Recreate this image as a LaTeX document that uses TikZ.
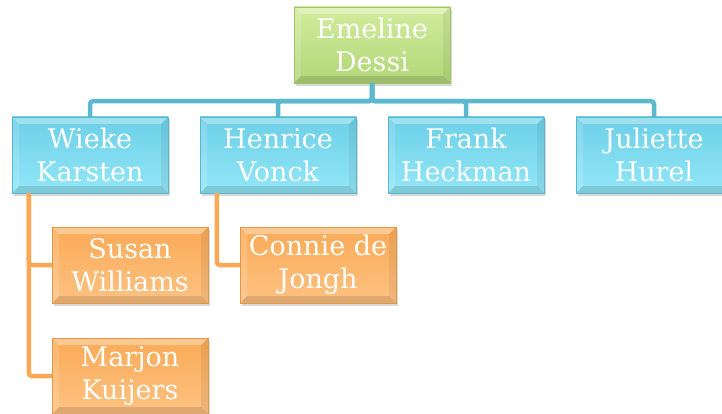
\documentclass[tikz,border=0pt]{standalone}
\usepackage{fontspec}
\setmainfont{DejaVu Serif}
\usetikzlibrary{positioning,shadows}

\definecolor{bossTop}{HTML}{D2EC9E}
\definecolor{bossBottom}{HTML}{B2D777}
\definecolor{bossEdge}{HTML}{A3C466}
\definecolor{staffTop}{HTML}{6CCFE7}
\definecolor{staffBottom}{HTML}{93E7F8}
\definecolor{staffEdge}{HTML}{5AB6CC}
\definecolor{helperTop}{HTML}{FAAA56}
\definecolor{helperBottom}{HTML}{FDC282}
\definecolor{helperEdge}{HTML}{E39848}
\definecolor{staffLine}{HTML}{5BB9CF}
\definecolor{helperLine}{HTML}{F9A855}

\tikzstyle{box} = [rectangle, minimum width=156pt, minimum height=76pt, inner sep=0pt, align=center, text=white, font=\fontsize{27}{33}\selectfont, drop shadow={shadow xshift=2pt, shadow yshift=-3pt, opacity=0.3},
  path picture={
    \fill[white, opacity=0.35] (path picture bounding box.north west) -- (path picture bounding box.north east) -- ([shift={(-7pt,-7pt)}]path picture bounding box.north east) -- ([shift={(7pt,-7pt)}]path picture bounding box.north west) -- cycle;
    \fill[white, opacity=0.15] (path picture bounding box.north west) -- ([shift={(7pt,-7pt)}]path picture bounding box.north west) -- ([shift={(7pt,7pt)}]path picture bounding box.south west) -- (path picture bounding box.south west) -- cycle;
    \fill[black, opacity=0.12] (path picture bounding box.south west) -- (path picture bounding box.south east) -- ([shift={(-7pt,7pt)}]path picture bounding box.south east) -- ([shift={(7pt,7pt)}]path picture bounding box.south west) -- cycle;
    \fill[black, opacity=0.06] (path picture bounding box.north east) -- ([shift={(-7pt,-7pt)}]path picture bounding box.north east) -- ([shift={(-7pt,7pt)}]path picture bounding box.south east) -- (path picture bounding box.south east) -- cycle;
  }]
\tikzstyle{boss} = [box, top color=bossTop, bottom color=bossBottom, draw=bossEdge]
\tikzstyle{staff} = [box, top color=staffTop, bottom color=staffBottom, draw=staffEdge]
\tikzstyle{helper} = [box, top color=helperTop, bottom color=helperBottom, draw=helperEdge]
\tikzstyle{staffLink} = [draw=staffLine, line width=4.5pt, rounded corners=3pt]
\tikzstyle{helperLink} = [draw=helperLine, line width=4.5pt, rounded corners=3pt]

\begin{document}
\begin{tikzpicture}[node distance=188pt]
\useasboundingbox (0pt,0pt) rectangle (722pt,-414pt);
\clip (0pt,0pt) rectangle (722pt,-414pt);

\node[boss] (emeline) at (372pt,-45pt) {Emeline\\Dessi};

\node[staff] (wieke) at (90pt,-155pt) {Wieke\\Karsten};
\node[staff] (henrice) [right of=wieke] {Henrice\\Vonck};
\node[staff] (frank) [right of=henrice] {Frank\\Heckman};
\node[staff] (juliette) [right of=frank] {Juliette\\Hurel};

\node[helper] (susan) [below of=wieke, node distance=110pt, xshift=40pt] {Susan\\Williams};
\node[helper] (marjon) [below of=susan, node distance=111pt] {Marjon\\Kuijers};
\node[helper] (connie) [below of=henrice, node distance=110pt, xshift=40pt] {Connie de\\Jongh};

% top level to staff
\draw[staffLink] (emeline.south) -- ++(0,-18pt) -| (wieke.north);
\draw[staffLink] (emeline.south) -- ++(0,-18pt) -| (henrice.north);
\draw[staffLink] (emeline.south) -- ++(0,-18pt) -| (frank.north);
\draw[staffLink] (emeline.south) -- ++(0,-18pt) -| (juliette.north);

% staff to helpers
\draw[helperLink] ([xshift=17pt]wieke.south west) |- (susan.west);
\draw[helperLink] ([xshift=17pt]wieke.south west) |- (marjon.west);
\draw[helperLink] ([xshift=17pt]henrice.south west) |- (connie.west);

\end{tikzpicture}
\end{document}
